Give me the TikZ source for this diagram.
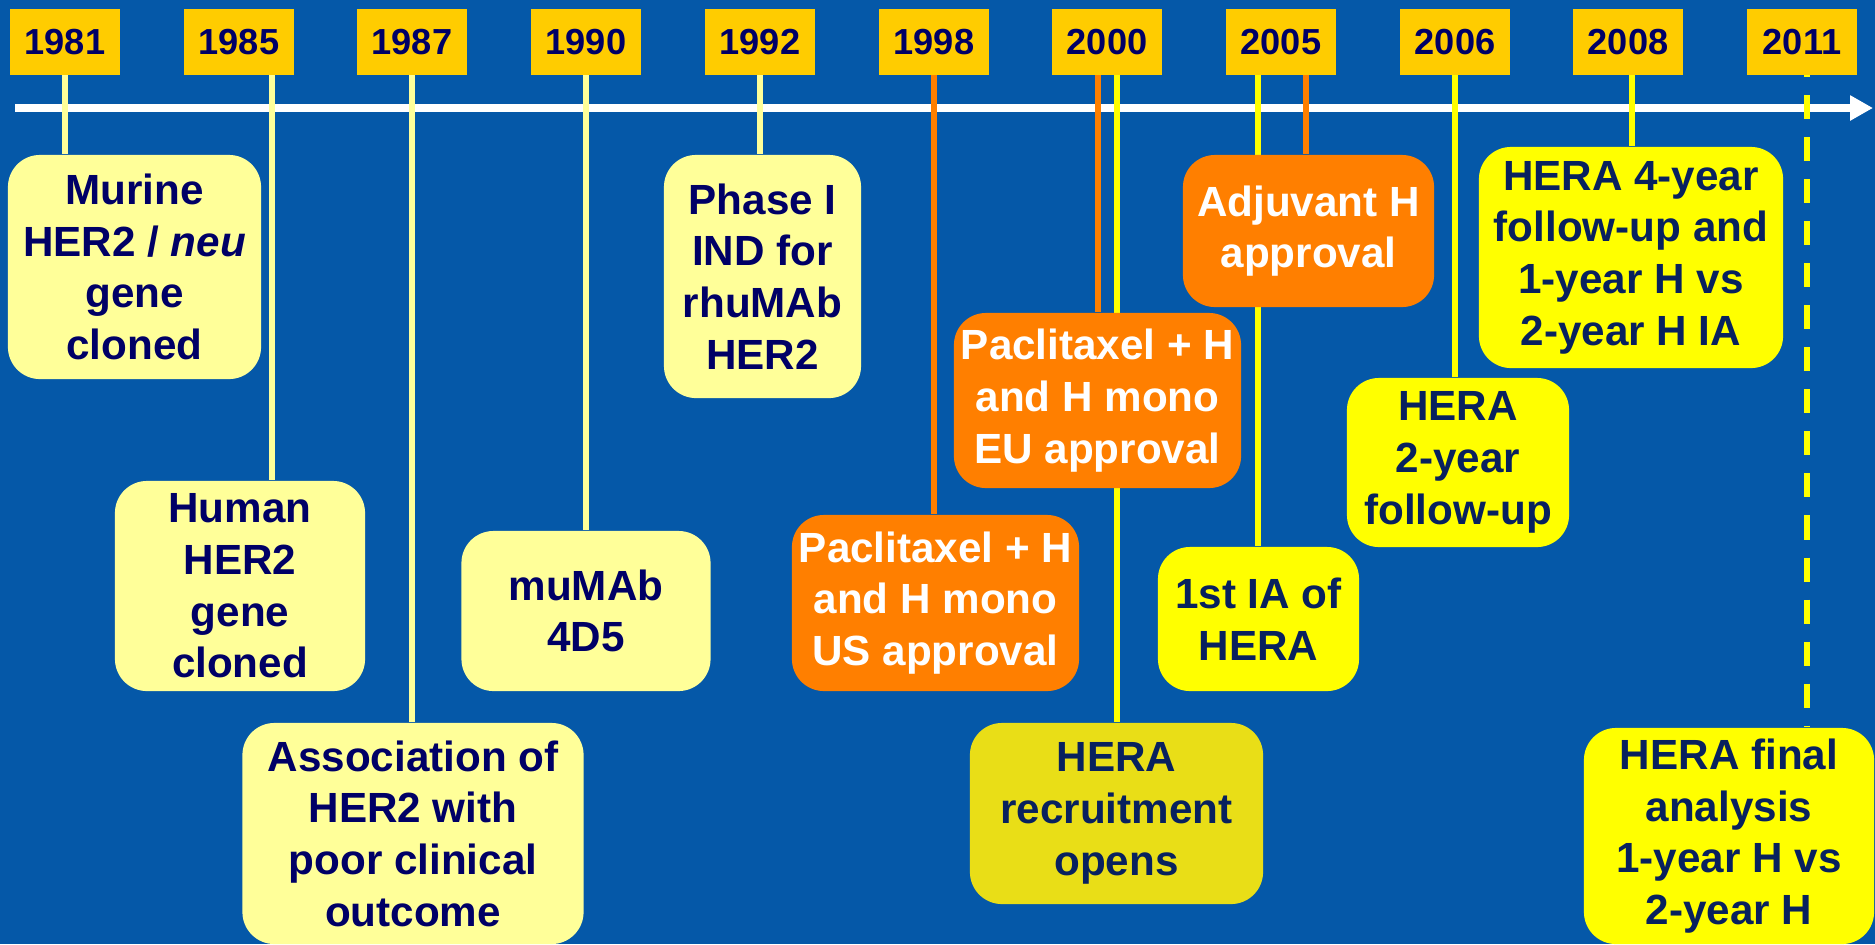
\documentclass[tikz,border=0pt]{standalone}
\usepackage{fontspec}
\setmainfont{Liberation Sans}
\usetikzlibrary{arrows.meta}

\definecolor{bgblue}{HTML}{0558A8}
\definecolor{yearyellow}{HTML}{FFCC00}
\definecolor{paleyellow}{HTML}{FFFF99}
\definecolor{brightyellow}{HTML}{FFFF00}
\definecolor{evtorange}{HTML}{FF7F00}
\definecolor{recruityellow}{HTML}{E9DE17}
\definecolor{navytext}{HTML}{000066}
\definecolor{heratext}{HTML}{08215E}

\pgfdeclarelayer{back}
\pgfdeclarelayer{links}
\pgfsetlayers{back,links,main}

\tikzset{
  yearbox/.style={fill=yearyellow, text=navytext, inner sep=0pt,
    minimum width=1.1cm, minimum height=0.65cm,
    font=\bfseries\fontsize{10.3}{12}\selectfont},
  event/.style={rounded corners=0.32cm, align=center, inner sep=0pt,
    font=\bfseries\fontsize{12}{14.7}\selectfont},
  paleevent/.style={event, fill=paleyellow, text=navytext},
  orangeevent/.style={event, fill=evtorange, text=white},
  heraevent/.style={event, fill=brightyellow, text=heratext},
  recruitevent/.style={event, fill=recruityellow, text=heratext},
  paleline/.style={draw=paleyellow, line width=1.7pt},
  orangeline/.style={draw=evtorange, line width=1.6pt},
  heraline/.style={draw=brightyellow, line width=1.7pt},
  axisline/.style={draw=white, line width=0.08cm,
    -{Triangle[length=0.23cm, width=0.24cm]}}
}

\begin{document}
\begin{tikzpicture}[x=0.01cm, y=-0.01cm]
\useasboundingbox (0,0) rectangle (1875,944);

\begin{pgfonlayer}{back}
\fill[bgblue] (0,0) rectangle (1875,944);
\end{pgfonlayer}

% years
\node[yearbox] (y1981) at (65,42) {1981};
\node[yearbox] (y1985) at (239,42) {1985};
\node[yearbox] (y1987) at (412,42) {1987};
\node[yearbox] (y1990) at (586,42) {1990};
\node[yearbox] (y1992) at (760,42) {1992};
\node[yearbox] (y1998) at (934,42) {1998};
\node[yearbox] (y2000) at (1107,42) {2000};
\node[yearbox] (y2005) at (1281,42) {2005};
\node[yearbox] (y2006) at (1455,42) {2006};
\node[yearbox] (y2008) at (1628,42) {2008};
\node[yearbox] (y2011) at (1802,42) {2011};

% events
\node[paleevent, minimum width=2.53cm, minimum height=2.24cm] (murine) at (134.5,267)
  {Murine\\HER2 / \textit{neu}\\gene\\cloned};
\node[paleevent, minimum width=2.50cm, minimum height=2.10cm] (human) at (240,586)
  {Human\\HER2\\gene\\cloned};
\node[paleevent, minimum width=3.41cm, minimum height=2.21cm] (assoc) at (413,833.5)
  {Association of\\HER2 with\\poor clinical\\outcome};
\node[paleevent, minimum width=2.49cm, minimum height=1.60cm] (mumab) at (586,611)
  {muMAb\\4D5};
\node[paleevent, minimum width=1.97cm, minimum height=2.43cm] (phase) at (762.5,276.5)
  {Phase I\\IND for\\rhuMAb\\HER2};
\node[orangeevent, minimum width=2.87cm, minimum height=1.76cm] (pacus) at (935.5,603)
  {Paclitaxel + H\\and H mono\\US approval};
\node[orangeevent, minimum width=2.87cm, minimum height=1.75cm] (paceu) at (1097.5,400.5)
  {Paclitaxel + H\\and H mono\\EU approval};
\node[recruitevent, minimum width=2.93cm, minimum height=1.81cm] (recruit) at (1116.5,813.5)
  {HERA\\recruitment\\opens};
\node[orangeevent, minimum width=2.51cm, minimum height=1.52cm] (adjuv) at (1308.5,231)
  {Adjuvant H\\approval};
\node[heraevent, minimum width=2.01cm, minimum height=1.44cm] (firstia) at (1258.5,619)
  {1st IA of\\HERA};
\node[heraevent, minimum width=2.22cm, minimum height=1.69cm] (twoyear) at (1458,462.5)
  {HERA\\2-year\\follow-up};
\node[heraevent, minimum width=3.04cm, minimum height=2.21cm] (fouryear) at (1631,257.5)
  {HERA 4-year\\follow-up and\\1-year H vs\\2-year H IA};
\node[heraevent, minimum width=2.90cm, minimum height=2.16cm] (final) at (1729,836)
  {HERA final\\analysis\\1-year H vs\\2-year H};

\begin{pgfonlayer}{links}
\coordinate (axisstart) at (15,108);
\coordinate (axisend) at (1873,108);
\draw[axisline] (axisstart) -- (axisend);

\draw[paleline] (y1981.south) -- (y1981.south |- murine.north);
\draw[paleline] ([xshift=0.33cm]y1985.south) -- ([xshift=0.33cm]y1985.south |- human.north);
\draw[paleline] (y1987.south) -- (y1987.south |- assoc.north);
\draw[paleline] (y1990.south) -- (y1990.south |- mumab.north);
\draw[paleline] (y1992.south) -- (y1992.south |- phase.north);
\draw[orangeline] (y1998.south) -- (y1998.south |- pacus.north);
\draw[orangeline] ([xshift=-0.09cm]y2000.south) -- ([xshift=-0.09cm]y2000.south |- paceu.north);
\draw[heraline] ([xshift=0.10cm]y2000.south) -- ([xshift=0.10cm]y2000.south |- recruit.north);
\draw[heraline] ([xshift=-0.23cm]y2005.south) -- ([xshift=-0.23cm]y2005.south |- firstia.north);
\draw[orangeline] ([xshift=0.25cm]y2005.south) -- ([xshift=0.25cm]y2005.south |- adjuv.north);
\draw[heraline] (y2006.south) -- (y2006.south |- twoyear.north);
\draw[heraline] ([xshift=0.04cm]y2008.south) -- ([xshift=0.04cm]y2008.south |- fouryear.north);
\draw[heraline, dash pattern=on 0.24cm off 0.18cm, dash phase=0.22cm]
  ([xshift=0.05cm]y2011.south) -- ([xshift=0.05cm]y2011.south |- final.north);
\end{pgfonlayer}

\end{tikzpicture}
\end{document}
